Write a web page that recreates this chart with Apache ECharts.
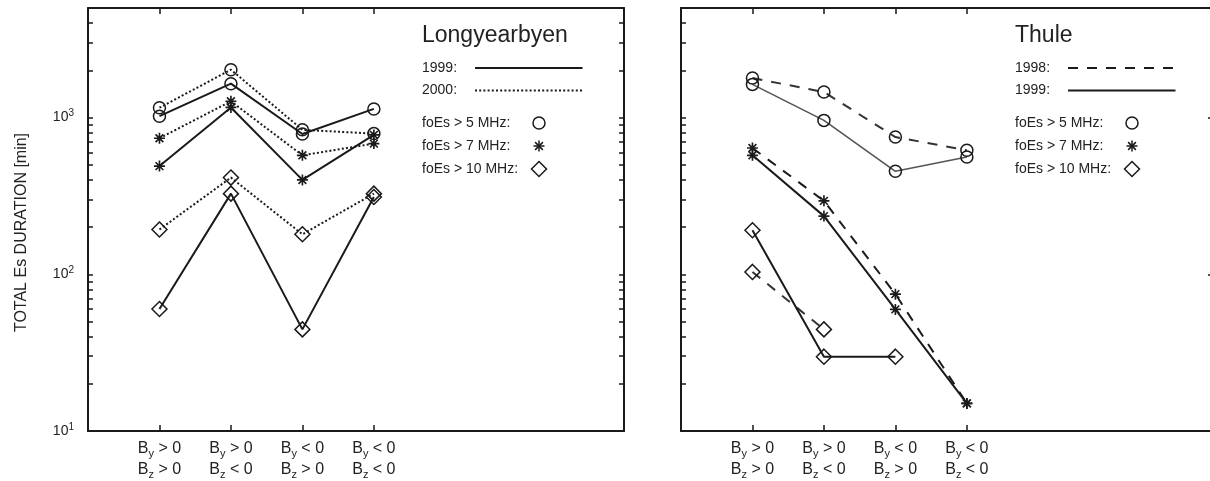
<!DOCTYPE html>
<html><head><meta charset="utf-8">
<script src="https://cdn.jsdelivr.net/npm/echarts@6/dist/echarts.min.js"></script>
<style>html,body{margin:0;padding:0;background:#fff}#c{width:1210px;height:481px}</style>
</head><body><div id="c"></div>
<script>
// ---------- data ----------
const categoryLine1 = ['B_y > 0', 'B_y > 0', 'B_y < 0', 'B_y < 0'];
const categoryLine2 = ['B_z > 0', 'B_z < 0', 'B_z > 0', 'B_z < 0'];
const majorTicks = [10, 100, 1000];
const minorTicks = [20, 30, 40, 50, 60, 70, 80, 90, 200, 300, 400, 500, 600, 700, 800, 900, 2000, 3000, 4000];
const yAxisTitle = 'TOTAL Es DURATION [min]';
const stations = ['Longyearbyen', 'Thule'];
const thresholdLabels = ['foEs > 5 MHz:', 'foEs > 7 MHz:', 'foEs > 10 MHz:'];

// Longyearbyen
const lyr1999_5 = [1020, 1645, 785, 1135];
const lyr2000_5 = [1155, 2020, 835, 790];
const lyr1999_7 = [490, 1160, 400, 775];
const lyr2000_7 = [738, 1270, 574, 682];
const lyr1999_10 = [60, 327, 44.5, 311];
const lyr2000_10 = [193, 414, 180, 327];
// Thule
const thu1998_5 = [1786, 1455, 751, 618];
const thu1999_5 = [1628, 959, 454, 560];
const thu1998_7 = [639, 294, 74.7, 15];
const thu1999_7 = [574, 235, 59.7, 15];
const thu1998_10 = [103.5, 44.5, null, null];
const thu1999_10 = [191, 29.8, 29.8, null];

const lyrYears = ['1999:', '2000:'];
const thuYears = ['1998:', '1999:'];

// ---------- styling / layout ----------
const FONT = 'Liberation Sans, Arial, Helvetica, sans-serif';
const INK = '#1a1a1a';
const grids = [
  { left: 88, top: 8, width: 536, height: 423 },
  { left: 681, top: 8, width: 536, height: 423 }
];
const DASH = { solid: 'solid', dotted: [2, 2.2], dashed: [10, 9] };
const ASTERISK = 'path://M8.5 0L11.5 0L11.5 20L8.5 20Z M0 8.5L20 8.5L20 11.5L0 11.5Z M3.99 1.87L18.13 16.01L16.01 18.13L1.87 3.99Z M16.01 1.87L18.13 3.99L3.99 18.13L1.87 16.01Z';
const MARK = {
  circle: { symbol: 'circle', size: 12, item: { color: 'transparent', borderColor: INK, borderWidth: 1.5 } },
  star: { symbol: ASTERISK, size: 11, item: { color: INK, borderWidth: 0 } },
  diamond: { symbol: 'diamond', size: 15, item: { color: 'transparent', borderColor: INK, borderWidth: 1.5 } }
};
const allTicks = majorTicks.concat(minorTicks).sort((a, b) => a - b);

function xAxes(gi) {
  const base = {
    type: 'value', gridIndex: gi, min: 0, max: 7.5,
    splitLine: { show: false },
    axisLine: { show: true, onZero: false, lineStyle: { color: INK, width: 2 } },
    axisTick: { show: true, inside: true, length: 6, customValues: [1, 2, 3, 4], lineStyle: { color: INK, width: 1.5 } }
  };
  return [
    Object.assign({}, base, {
      position: 'bottom',
      axisLabel: {
        show: true, customValues: [1, 2, 3, 4], margin: 7, color: '#222', fontFamily: FONT,
        fontSize: 16, lineHeight: 21,
        formatter: v => {
          const i = Math.round(v) - 1;
          const f = s => s.replace(/B_([yz])/, 'B{sub|$1}');
          return f(categoryLine1[i]) + '\n' + f(categoryLine2[i]);
        },
        rich: { sub: { fontSize: 11, lineHeight: 12, verticalAlign: 'bottom', fontFamily: FONT, color: '#222' } }
      }
    }),
    Object.assign({}, base, { position: 'top', axisLabel: { show: false } })
  ];
}

function yAxis(gi, pos, showLabel, ticks, len, name) {
  const ax = {
    type: 'log', logBase: 10, min: 10, max: 5000, gridIndex: gi, position: pos, offset: 0,
    splitLine: { show: false }, minorTick: { show: false },
    axisLine: { show: true, onZero: false, lineStyle: { color: INK, width: 2 } },
    axisTick: { show: true, inside: true, length: len, customValues: ticks, lineStyle: { color: INK, width: 1.5 } },
    axisLabel: {
      show: showLabel, customValues: majorTicks, margin: 14, color: '#222', fontFamily: FONT,
      fontSize: 14, lineHeight: 18,
      formatter: v => '10{sup|' + Math.round(Math.log10(v)) + '}',
      rich: { sup: { fontSize: 10, lineHeight: 9, verticalAlign: 'top', fontFamily: FONT, color: '#222' } }
    }
  };
  if (name) {
    Object.assign(ax, {
      name: name, nameLocation: 'middle', nameGap: 58,
      nameTextStyle: { fontSize: 16, color: '#222', fontFamily: FONT, padding: [0, 26, 0, 0] }
    });
  }
  return ax;
}

const xAxisList = [...xAxes(0), ...xAxes(1)];
const yAxisList = [
  yAxis(0, 'left', true, allTicks, 5, yAxisTitle),
  yAxis(0, 'right', false, allTicks, 5),
  yAxis(1, 'left', false, allTicks, 5),
  yAxis(1, 'right', false, majorTicks, 9)
];

function line(gi, values, mark, dash, color, width) {
  const m = MARK[mark];
  return {
    type: 'line', xAxisIndex: gi * 2, yAxisIndex: gi * 2,
    data: values.map((v, i) => v == null ? null : [i + 1, v]).filter(d => d),
    symbol: m.symbol, symbolSize: m.size, showSymbol: true,
    itemStyle: m.item,
    lineStyle: { color: color || INK, width: width || 2, type: DASH[dash] },
    emphasis: { disabled: true }, silent: true, animation: false, z: 3
  };
}

const series = [
  line(0, lyr1999_5, 'circle', 'solid'),
  line(0, lyr2000_5, 'circle', 'dotted'),
  line(0, lyr1999_7, 'star', 'solid'),
  line(0, lyr2000_7, 'star', 'dotted'),
  line(0, lyr1999_10, 'diamond', 'solid'),
  line(0, lyr2000_10, 'diamond', 'dotted'),
  line(1, thu1998_5, 'circle', 'dashed', '#333'),
  line(1, thu1999_5, 'circle', 'solid', '#555', 1.6),
  line(1, thu1998_7, 'star', 'dashed'),
  line(1, thu1999_7, 'star', 'solid'),
  line(1, thu1998_10, 'diamond', 'dashed', '#333'),
  line(1, thu1999_10, 'diamond', 'solid')
];

// ---------- in-plot legends (graphic) ----------
function legend(gi, title, years, styles) {
  const L = grids[gi].left, T = grids[gi].top;
  const tx = L + 334, lx1 = L + 387, lx2 = L + 494.5, mx = L + 451;
  const els = [];
  const txt = (s, x, y, size) => ({
    type: 'text', x: x, y: y, z: 10, silent: true,
    style: { text: s, fill: '#222', font: size + 'px ' + FONT, textVerticalAlign: 'middle', verticalAlign: 'middle', textAlign: 'left' }
  });
  els.push(txt(title, tx, T + 27.5, 23));
  const rowsY = [T + 60, T + 82.5];
  years.forEach((y, k) => {
    els.push(txt(y, tx, rowsY[k], 14));
    const d = DASH[styles[k]];
    els.push({
      type: 'line', z: 10, silent: true,
      shape: { x1: lx1, y1: rowsY[k], x2: lx2, y2: rowsY[k] },
      style: { stroke: INK, lineWidth: 2, lineDash: d === 'solid' ? null : d }
    });
  });
  const mY = [T + 115, T + 138, T + 161];
  thresholdLabels.forEach((s, k) => els.push(txt(s, tx, mY[k], 14)));
  els.push({ type: 'circle', z: 10, silent: true, shape: { cx: mx, cy: mY[0], r: 6 }, style: { fill: 'none', stroke: INK, lineWidth: 1.5 } });
  const r = 5.5, c = 0.707 * r;
  [[mx - r, mY[1], mx + r, mY[1]], [mx, mY[1] - r, mx, mY[1] + r], [mx - c, mY[1] - c, mx + c, mY[1] + c], [mx - c, mY[1] + c, mx + c, mY[1] - c]]
    .forEach(p => els.push({ type: 'line', z: 10, silent: true, shape: { x1: p[0], y1: p[1], x2: p[2], y2: p[3] }, style: { stroke: INK, lineWidth: 1.5 } }));
  const dr = 7.5;
  els.push({ type: 'polygon', z: 10, silent: true, shape: { points: [[mx, mY[2] - dr], [mx + dr, mY[2]], [mx, mY[2] + dr], [mx - dr, mY[2]]] }, style: { fill: 'none', stroke: INK, lineWidth: 1.5 } });
  return els;
}

const chart = echarts.init(document.getElementById('c'), null, { renderer: 'canvas' });
chart.setOption({
  animation: false,
  backgroundColor: '#fff',
  textStyle: { fontFamily: FONT },
  grid: grids.map(g => Object.assign({ containLabel: false, outerBoundsMode: 'none' }, g)),
  xAxis: xAxisList,
  yAxis: yAxisList,
  series: series,
  graphic: [
    ...legend(0, stations[0], lyrYears, ['solid', 'dotted']),
    ...legend(1, stations[1], thuYears, ['dashed', 'solid'])
  ]
});
</script>
</body></html>
